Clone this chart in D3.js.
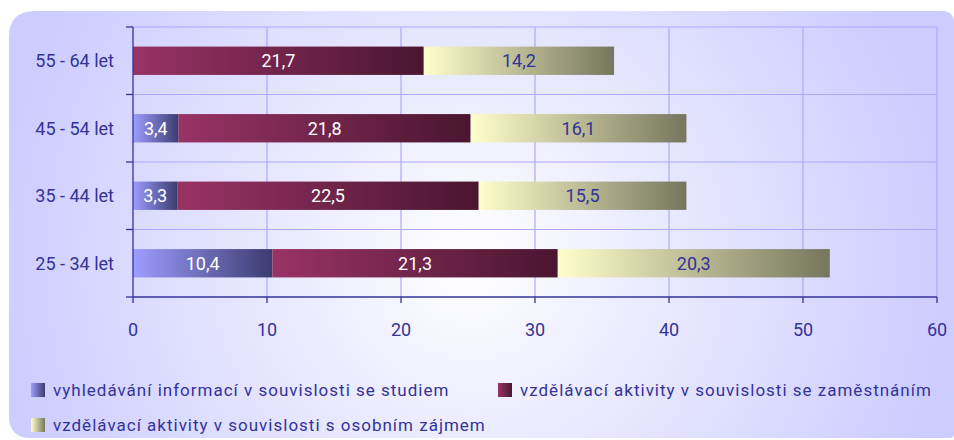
<!DOCTYPE html>
<html>
<head>
<meta charset="utf-8">
<script src="https://cdn.jsdelivr.net/npm/d3@7"></script>
<style>
  html, body { margin: 0; padding: 0; background: #ffffff; }
  svg { display: block; }
  text { font-family: Roboto, "Liberation Sans", Arial, sans-serif; }
</style>
</head>
<body>
<svg id="chart" width="954" height="440"></svg>
<script>
// Age groups (top to bottom)
const categories = ["55 - 64 let", "45 - 54 let", "35 - 44 let", "25 - 34 let"];

// Series names
const seriesNames = [
  "vyhledávání informací v souvislosti se studiem",
  "vzdělávací aktivity v souvislosti se zaměstnáním",
  "vzdělávací aktivity v souvislosti s osobním zájmem"
];

// Values per series, aligned with categories (null = no segment)
const studium     = [null, 3.4, 3.3, 10.4];
const zamestnani  = [21.7, 21.8, 22.5, 21.3];
const osobniZajem = [14.2, 16.1, 15.5, 20.3];

const xTicks = [0, 10, 20, 30, 40, 50, 60];

const seriesValues = [studium, zamestnani, osobniZajem];
const seriesGrad = [
  ["#9d9dff", "#3c3c70"],
  ["#993366", "#4a1630"],
  ["#ffffcc", "#76765e"]
];
const labelColors = ["#ffffff", "#ffffff", "#333399"];

const svg = d3.select("#chart");
const defs = svg.append("defs");

// Panel background: lavender with a soft light centre
const bg = defs.append("radialGradient")
  .attr("id", "panelBg")
  .attr("gradientUnits", "userSpaceOnUse")
  .attr("cx", 470).attr("cy", 260).attr("r", 480);
bg.append("stop").attr("offset", 0).attr("stop-color", "#ffffff");
bg.append("stop").attr("offset", 0.35).attr("stop-color", "#ececff");
bg.append("stop").attr("offset", 1).attr("stop-color", "#ccccff");

seriesGrad.forEach((g, i) => {
  const lg = defs.append("linearGradient")
    .attr("id", "grad" + i)
    .attr("x1", 0).attr("y1", 0).attr("x2", 1).attr("y2", 0);
  lg.append("stop").attr("offset", 0).attr("stop-color", g[0]);
  lg.append("stop").attr("offset", 1).attr("stop-color", g[1]);
});

// Panel with uneven rounded corners
const px0 = 9, py0 = 11, px1 = 954, py1 = 438;
const rTL = 26, rTR = 12, rBR = 4, rBL = 22;
const panel = d3.path();
panel.moveTo(px0 + rTL, py0);
panel.lineTo(px1 - rTR, py0);
panel.quadraticCurveTo(px1, py0, px1, py0 + rTR);
panel.lineTo(px1, py1 - rBR);
panel.quadraticCurveTo(px1, py1, px1 - rBR, py1);
panel.lineTo(px0 + rBL, py1);
panel.quadraticCurveTo(px0, py1, px0, py1 - rBL);
panel.lineTo(px0, py0 + rTL);
panel.quadraticCurveTo(px0, py0, px0 + rTL, py0);
panel.closePath();
svg.append("path").attr("d", panel.toString()).attr("fill", "url(#panelBg)");

// Scales
const x = d3.scaleLinear().domain([0, 60]).range([133, 937]);
const y = d3.scaleBand().domain(categories).range([27, 297]).padding(0);
const barH = y.bandwidth() * 0.42;

const gridColor = "#aaaaff";
const axisColor = "#333399";

// Vertical gridlines
svg.append("g").selectAll("line")
  .data(xTicks.filter(d => d > 0))
  .join("line")
  .attr("x1", d => x(d)).attr("x2", d => x(d))
  .attr("y1", 27).attr("y2", 297)
  .attr("stroke", gridColor).attr("stroke-width", 1.2);

// Horizontal gridlines at band boundaries
svg.append("g").selectAll("line")
  .data(categories)
  .join("line")
  .attr("x1", x(0)).attr("x2", x(60))
  .attr("y1", d => y(d)).attr("y2", d => y(d))
  .attr("stroke", gridColor).attr("stroke-width", 1.2);

// Stacked segments
const stacked = categories.map((c, ci) => {
  let acc = 0;
  return seriesValues.map((vals, si) => {
    const v = vals[ci];
    const seg = { cat: c, si, v, x0: acc, x1: acc + (v || 0) };
    acc += (v || 0);
    return seg;
  }).filter(s => s.v != null && s.v > 0);
}).flat();

const bars = svg.append("g");
bars.selectAll("rect")
  .data(stacked)
  .join("rect")
  .attr("x", d => x(d.x0))
  .attr("width", d => x(d.x1) - x(d.x0))
  .attr("y", d => y(d.cat) + (y.bandwidth() - barH) / 2)
  .attr("height", barH)
  .attr("fill", d => "url(#grad" + d.si + ")");

bars.selectAll("text")
  .data(stacked)
  .join("text")
  .attr("x", d => (x(d.x0) + x(d.x1)) / 2)
  .attr("y", d => y(d.cat) + y.bandwidth() / 2)
  .attr("dy", "0.36em")
  .attr("text-anchor", "middle")
  .attr("font-size", 18)
  .attr("fill", d => labelColors[d.si])
  .text(d => d3.format(".1f")(d.v).replace(".", ","));

// Left axis
const yAxisG = svg.append("g").attr("transform", `translate(${x(0)},0)`);
yAxisG.append("line")
  .attr("x1", 0).attr("x2", 0).attr("y1", 27).attr("y2", 297)
  .attr("stroke", axisColor).attr("stroke-width", 1.3);
yAxisG.selectAll("line.tick")
  .data(categories.map(c => y(c)).concat([297]))
  .join("line").attr("class", "tick")
  .attr("x1", -7).attr("x2", 0)
  .attr("y1", d => d).attr("y2", d => d)
  .attr("stroke", axisColor).attr("stroke-width", 1.3);
yAxisG.selectAll("text")
  .data(categories)
  .join("text")
  .attr("x", -19)
  .attr("y", d => y(d) + y.bandwidth() / 2)
  .attr("dy", "0.36em")
  .attr("text-anchor", "end")
  .attr("font-size", 18)
  .attr("fill", axisColor)
  .text(d => d);

// Bottom axis
const xAxisG = svg.append("g").attr("transform", "translate(0,297)");
xAxisG.append("line")
  .attr("x1", x(0)).attr("x2", x(60)).attr("y1", 0).attr("y2", 0)
  .attr("stroke", axisColor).attr("stroke-width", 1.3);
xAxisG.selectAll("line.tick")
  .data(xTicks)
  .join("line").attr("class", "tick")
  .attr("x1", d => x(d)).attr("x2", d => x(d))
  .attr("y1", 0).attr("y2", 6)
  .attr("stroke", axisColor).attr("stroke-width", 1.3);
xAxisG.selectAll("text")
  .data(xTicks)
  .join("text")
  .attr("x", d => x(d))
  .attr("y", 33)
  .attr("dy", "0.36em")
  .attr("text-anchor", "middle")
  .attr("font-size", 18)
  .attr("fill", axisColor)
  .text(d => d);

// Legend
const legendPos = [
  { x: 31, y: 390 },
  { x: 498, y: 390 },
  { x: 31, y: 425 }
];
const legend = svg.append("g").selectAll("g")
  .data(seriesNames)
  .join("g")
  .attr("transform", (d, i) => `translate(${legendPos[i].x},${legendPos[i].y})`);
legend.append("rect")
  .attr("x", 0).attr("y", -7).attr("width", 14).attr("height", 14)
  .attr("fill", (d, i) => "url(#grad" + i + ")");
legend.append("text")
  .attr("x", 22).attr("y", 0).attr("dy", "0.36em")
  .attr("font-size", 17)
  .attr("letter-spacing", 1.0)
  .attr("fill", axisColor)
  .text(d => d);
</script>
</body>
</html>
